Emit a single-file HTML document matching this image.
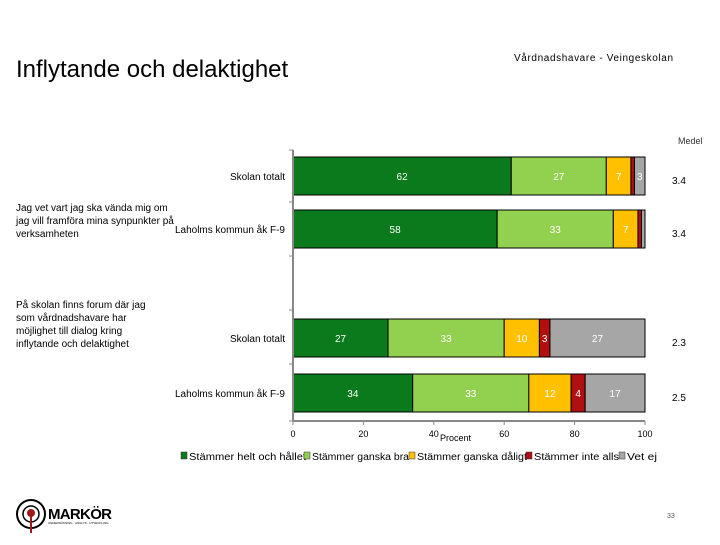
<!DOCTYPE html>
<html><head><meta charset="utf-8"><style>
body{margin:0;width:720px;height:540px;background:#fff;overflow:hidden;font-family:"Liberation Sans",sans-serif;}
svg text{font-family:"Liberation Sans",sans-serif;}
</style></head><body>
<svg id="c" width="720" height="540">
<text x="16" y="77" font-size="24" fill="#000">Inflytande och delaktighet</text>
<text x="514" y="61" font-size="10" fill="#000" textLength="159">Vårdnadshavare - Veingeskolan</text>
<text x="678" y="144" font-size="9" fill="#333">Medel</text>
<g id="bars"></g>
<line x1="293" y1="150" x2="293" y2="421" stroke="#888" stroke-width="2"/>
<line x1="293" y1="421" x2="645" y2="421" stroke="#888" stroke-width="2"/>
<g id="ticks"></g>
<text x="440" y="441" font-size="9">Procent</text>
<text x="16" y="211" font-size="10"><tspan x="16">Jag vet vart jag ska vända mig om</tspan><tspan x="16" dy="13">jag vill framföra mina synpunkter på</tspan><tspan x="16" dy="13">verksamheten</tspan></text>
<text x="16" y="308" font-size="10"><tspan x="16">På skolan finns forum där jag</tspan><tspan x="16" dy="13">som vårdnadshavare har</tspan><tspan x="16" dy="13">möjlighet till dialog kring</tspan><tspan x="16" dy="13">inflytande och delaktighet</tspan></text>
<g id="legend"></g>
<g>
<circle cx="31" cy="514" r="14" fill="none" stroke="#000" stroke-width="2"/>
<circle cx="31" cy="514" r="8" fill="none" stroke="#000" stroke-width="1.5"/>
<circle cx="31" cy="513" r="4" fill="#a01818"/>
<line x1="31" y1="513" x2="31" y2="533" stroke="#a01818" stroke-width="2"/>
<text x="48" y="519" font-size="15" font-weight="bold" textLength="64">MARKÖR</text>
<text x="48" y="524" font-size="3">UNDERSÖKNING · ANALYS · UTVECKLING</text>
</g>
<text x="667" y="518" font-size="7" fill="#555">33</text>
</svg>
<script>
const categories=["Skolan totalt","Laholms kommun åk F-9","Skolan totalt","Laholms kommun åk F-9"];
const helt=[62,58,27,34];
const ganskaBra=[27,33,33,33];
const ganskaDaligt=[7,7,10,12];
const inteAlls=[1,1,3,4];
const vetEj=[3,1,27,17];
const medel=["3.4","3.4","2.3","2.5"];
const xTicks=[0,20,40,60,80,100];
const seriesNames=["Stämmer helt och hållet","Stämmer ganska bra","Stämmer ganska dåligt","Stämmer inte alls","Vet ej"];
const colors=["#0b7a1c","#92d050","#ffc000","#b01010","#a6a6a6"];
const rowY=[157,210,319,374];
const x=v=>293+v*3.52;
const NS="http://www.w3.org/2000/svg";
const bars=document.getElementById('bars');
const all=[helt,ganskaBra,ganskaDaligt,inteAlls,vetEj];
function mk(t,a,p){const e=document.createElementNS(NS,t);for(const k in a)e.setAttribute(k,a[k]);p.appendChild(e);return e;}
categories.forEach((cat,i)=>{
  let cum=0;
  all.forEach((s,j)=>{
    const v=s[i];
    const r=mk('rect',{x:x(cum),y:rowY[i],width:Math.max(0,x(cum+v)-x(cum)),height:38,fill:colors[j],stroke:'#000','stroke-width':1},bars);
    
    
    if(v>2){
      const t=mk('text',{x:x(cum+v/2),y:rowY[i]+23,'font-size':10,fill:'#fff','text-anchor':'middle'},bars);
      t.textContent=v;
      
      
    }
    cum+=v;
  });
  const c=mk('text',{x:285,y:rowY[i]+23,'font-size':10,'text-anchor':'end'},bars);
  c.textContent=cat;
  
  
  const m=mk('text',{x:672,y:rowY[i]+27,'font-size':10},bars);
  m.textContent=medel[i];
  
  
});
const ticks=document.getElementById('ticks');
[150,202,256,310,364,421].forEach(y=>mk('line',{x1:289,y1:y,x2:293,y2:y,stroke:'#888','stroke-width':1},ticks));
xTicks.forEach(v=>{
  mk('line',{x1:x(v),y1:421,x2:x(v),y2:425,stroke:'#888','stroke-width':1},ticks);
  const t=mk('text',{x:x(v),y:437,'font-size':9,'text-anchor':'middle'},ticks);
  t.textContent=v;
  
  
});
const lg=document.getElementById('legend');
const lx=[181,304,409,526,619];
const lw=[117,97,110,85,30];
seriesNames.forEach((n,j)=>{
  const r=mk('rect',{x:lx[j],y:452,width:6,height:7,fill:colors[j],stroke:'#333','stroke-width':0.5},lg);
  
  
  const t=mk('text',{x:lx[j]+8,y:460,'font-size':10,textLength:lw[j],lengthAdjust:'spacingAndGlyphs'},lg);
  t.textContent=n;
  
  
});
</script>
</body></html>
